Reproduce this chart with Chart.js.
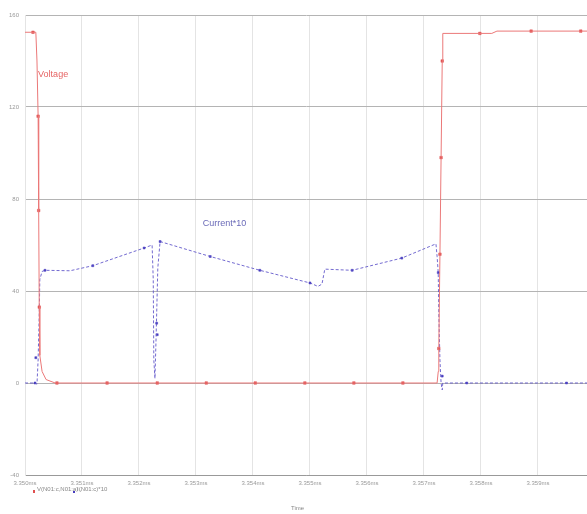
<!DOCTYPE html>
<html>
<head>
<meta charset="utf-8">
<script src="https://cdn.jsdelivr.net/npm/chart.js@4.4.0/dist/chart.umd.min.js"></script>
<style>
  html, body { margin: 0; padding: 0; background: #fff; overflow: hidden; }
</style>
</head>
<body>
<canvas id="c" width="587" height="514"></canvas>
<script>
// time in microseconds after 3.350ms
const voltT = [0, 0.19, 0.21, 0.23, 0.24, 0.25, 0.26, 0.30, 0.37, 0.53, 7.23, 7.25, 7.26, 7.28, 7.30, 7.32, 7.33, 8.19, 8.28, 9.86];
const voltV = [152.5, 152.5, 140, 116, 75, 33, 12, 5, 1.5, 0, 0, 5, 15, 56, 98, 140, 152, 152, 153, 153];
const voltMarkT = [0.14, 0.23, 0.24, 0.25, 0.56, 1.44, 2.32, 3.18, 4.04, 4.91, 5.77, 6.63, 7.26, 7.28, 7.30, 7.32, 7.98, 8.88, 9.75];
const voltMarkV = [152.5, 116, 75, 33, 0, 0, 0, 0, 0, 0, 0, 0, 15, 56, 98, 140, 152, 153, 153];

const currT = [0, 0.175, 0.21, 0.23, 0.25, 0.26, 0.30, 0.35, 0.79, 1.19, 2.09, 2.23, 2.25, 2.26, 2.28, 2.30, 2.33, 2.37, 3.25, 4.12, 5.0, 5.14, 5.21, 5.26, 5.74, 6.61, 7.21, 7.23, 7.25, 7.26, 7.28, 7.30, 7.32, 7.33, 9.86];
const currV = [0, 0, -0.5, 10, 30, 45, 48.5, 49, 48.8, 51, 58.7, 60, 45, 10, 2, 20, 50, 61.5, 55, 49, 43.5, 42, 43, 49.5, 49, 54.3, 60.5, 55, 48, 30, 10, 0, -3, 0, 0];
const currMarkT = [0.175, 0.19, 0.35, 1.19, 2.09, 2.31, 2.32, 2.37, 3.25, 4.12, 5.0, 5.74, 6.61, 7.25, 7.32, 7.75, 9.5];
const currMarkV = [0, 11, 49, 51, 58.7, 26, 21, 61.5, 55, 49, 43.5, 49, 54.3, 48, 3, 0, 0];

const yTicks = [-40, 0, 40, 80, 120, 160];
const xTickLabels = ['3.350ms', '3.351ms', '3.352ms', '3.353ms', '3.354ms', '3.355ms', '3.356ms', '3.357ms', '3.358ms', '3.359ms'];

const pts = (xs, ys) => xs.map((x, i) => ({x: x, y: ys[i]}));

const RED = 'rgba(224,80,80,1)';
const BLUE = 'rgba(70,60,190,1)';

const labelsPlugin = {
  id: 'labels',
  afterDraw(chart) {
    const c = chart.ctx;
    const xs = chart.scales.x, ys = chart.scales.y;
    c.save();
    c.font = '9px "Liberation Sans Narrow", "Liberation Sans", sans-serif';
    c.textBaseline = 'middle';
    c.fillStyle = 'rgba(230,100,100,1)';
    c.fillText('Voltage', xs.getPixelForValue(0.23), ys.getPixelForValue(134));
    c.fillStyle = '#6a6ab8';
    c.fillText('Current*10', xs.getPixelForValue(3.12), ys.getPixelForValue(69.5));
    // legend line under the axis
    c.font = '6px "Liberation Sans", sans-serif';
    c.fillStyle = RED;
    c.fillRect(33, 490, 2, 3);
    c.fillStyle = '#888';
    c.fillText('V(N01:c,N01:a) ,', 37, 489);
    c.fillStyle = BLUE;
    c.fillRect(73, 491, 2, 2);
    c.fillStyle = '#888';
    c.fillText('I(N01:c)*10', 77, 489);
    c.fillText('Time', 291, 508);
    c.restore();
  }
};

new Chart(document.getElementById('c'), {
  type: 'scatter',
  data: {
    datasets: [
      {label: 'Voltage', data: pts(voltT, voltV), showLine: true, borderColor: 'rgba(235,120,120,1)', borderWidth: 1, pointRadius: 0, tension: 0},
      {label: 'Voltage marks', data: pts(voltMarkT, voltMarkV), showLine: false, pointStyle: 'rect', pointRadius: 1.8, backgroundColor: RED, borderColor: RED, borderWidth: 0.5},
      {label: 'Current*10', data: pts(currT, currV), showLine: true, borderColor: 'rgba(90,80,200,0.85)', borderWidth: 1, borderDash: [3, 2], pointRadius: 0, tension: 0},
      {label: 'Current marks', data: pts(currMarkT, currMarkV), showLine: false, pointStyle: 'rect', pointRadius: 1.4, backgroundColor: BLUE, borderColor: BLUE, borderWidth: 0.5}
    ]
  },
  options: {
    responsive: false,
    animation: false,
    layout: {autoPadding: false, padding: {top: 15, right: 0, left: 0, bottom: 0}},
    plugins: {legend: {display: false}, tooltip: {enabled: false}},
    scales: {
      x: {
        type: 'linear',
        min: 0,
        max: 9.86,
        afterBuildTicks: (s) => { s.ticks = xTickLabels.map((_, i) => ({value: i})); },
        afterFit: (s) => { s.height = 39; s.paddingRight = 0; s.paddingLeft = 0; },
        grid: {color: '#e4e4e4', lineWidth: 1, drawTicks: false},
        border: {color: '#999'},
        ticks: {
          color: '#999',
          font: {size: 6, family: '"Liberation Sans", sans-serif'},
          padding: 5,
          maxRotation: 0,
          autoSkip: false,
          callback: (v) => xTickLabels[v]
        }
      },
      y: {
        min: -40,
        max: 160,
        afterBuildTicks: (s) => { s.ticks = yTicks.map(v => ({value: v})); },
        afterFit: (s) => { s.width = 25; s.paddingTop = 0; s.paddingBottom = 0; },
        grid: {color: '#b4b4b4', lineWidth: 1, drawTicks: false},
        border: {color: '#e4e4e4'},
        ticks: {
          color: '#999',
          font: {size: 6, family: '"Liberation Sans", sans-serif'},
          padding: 6
        }
      }
    }
  },
  plugins: [labelsPlugin]
});
</script>
</body>
</html>
